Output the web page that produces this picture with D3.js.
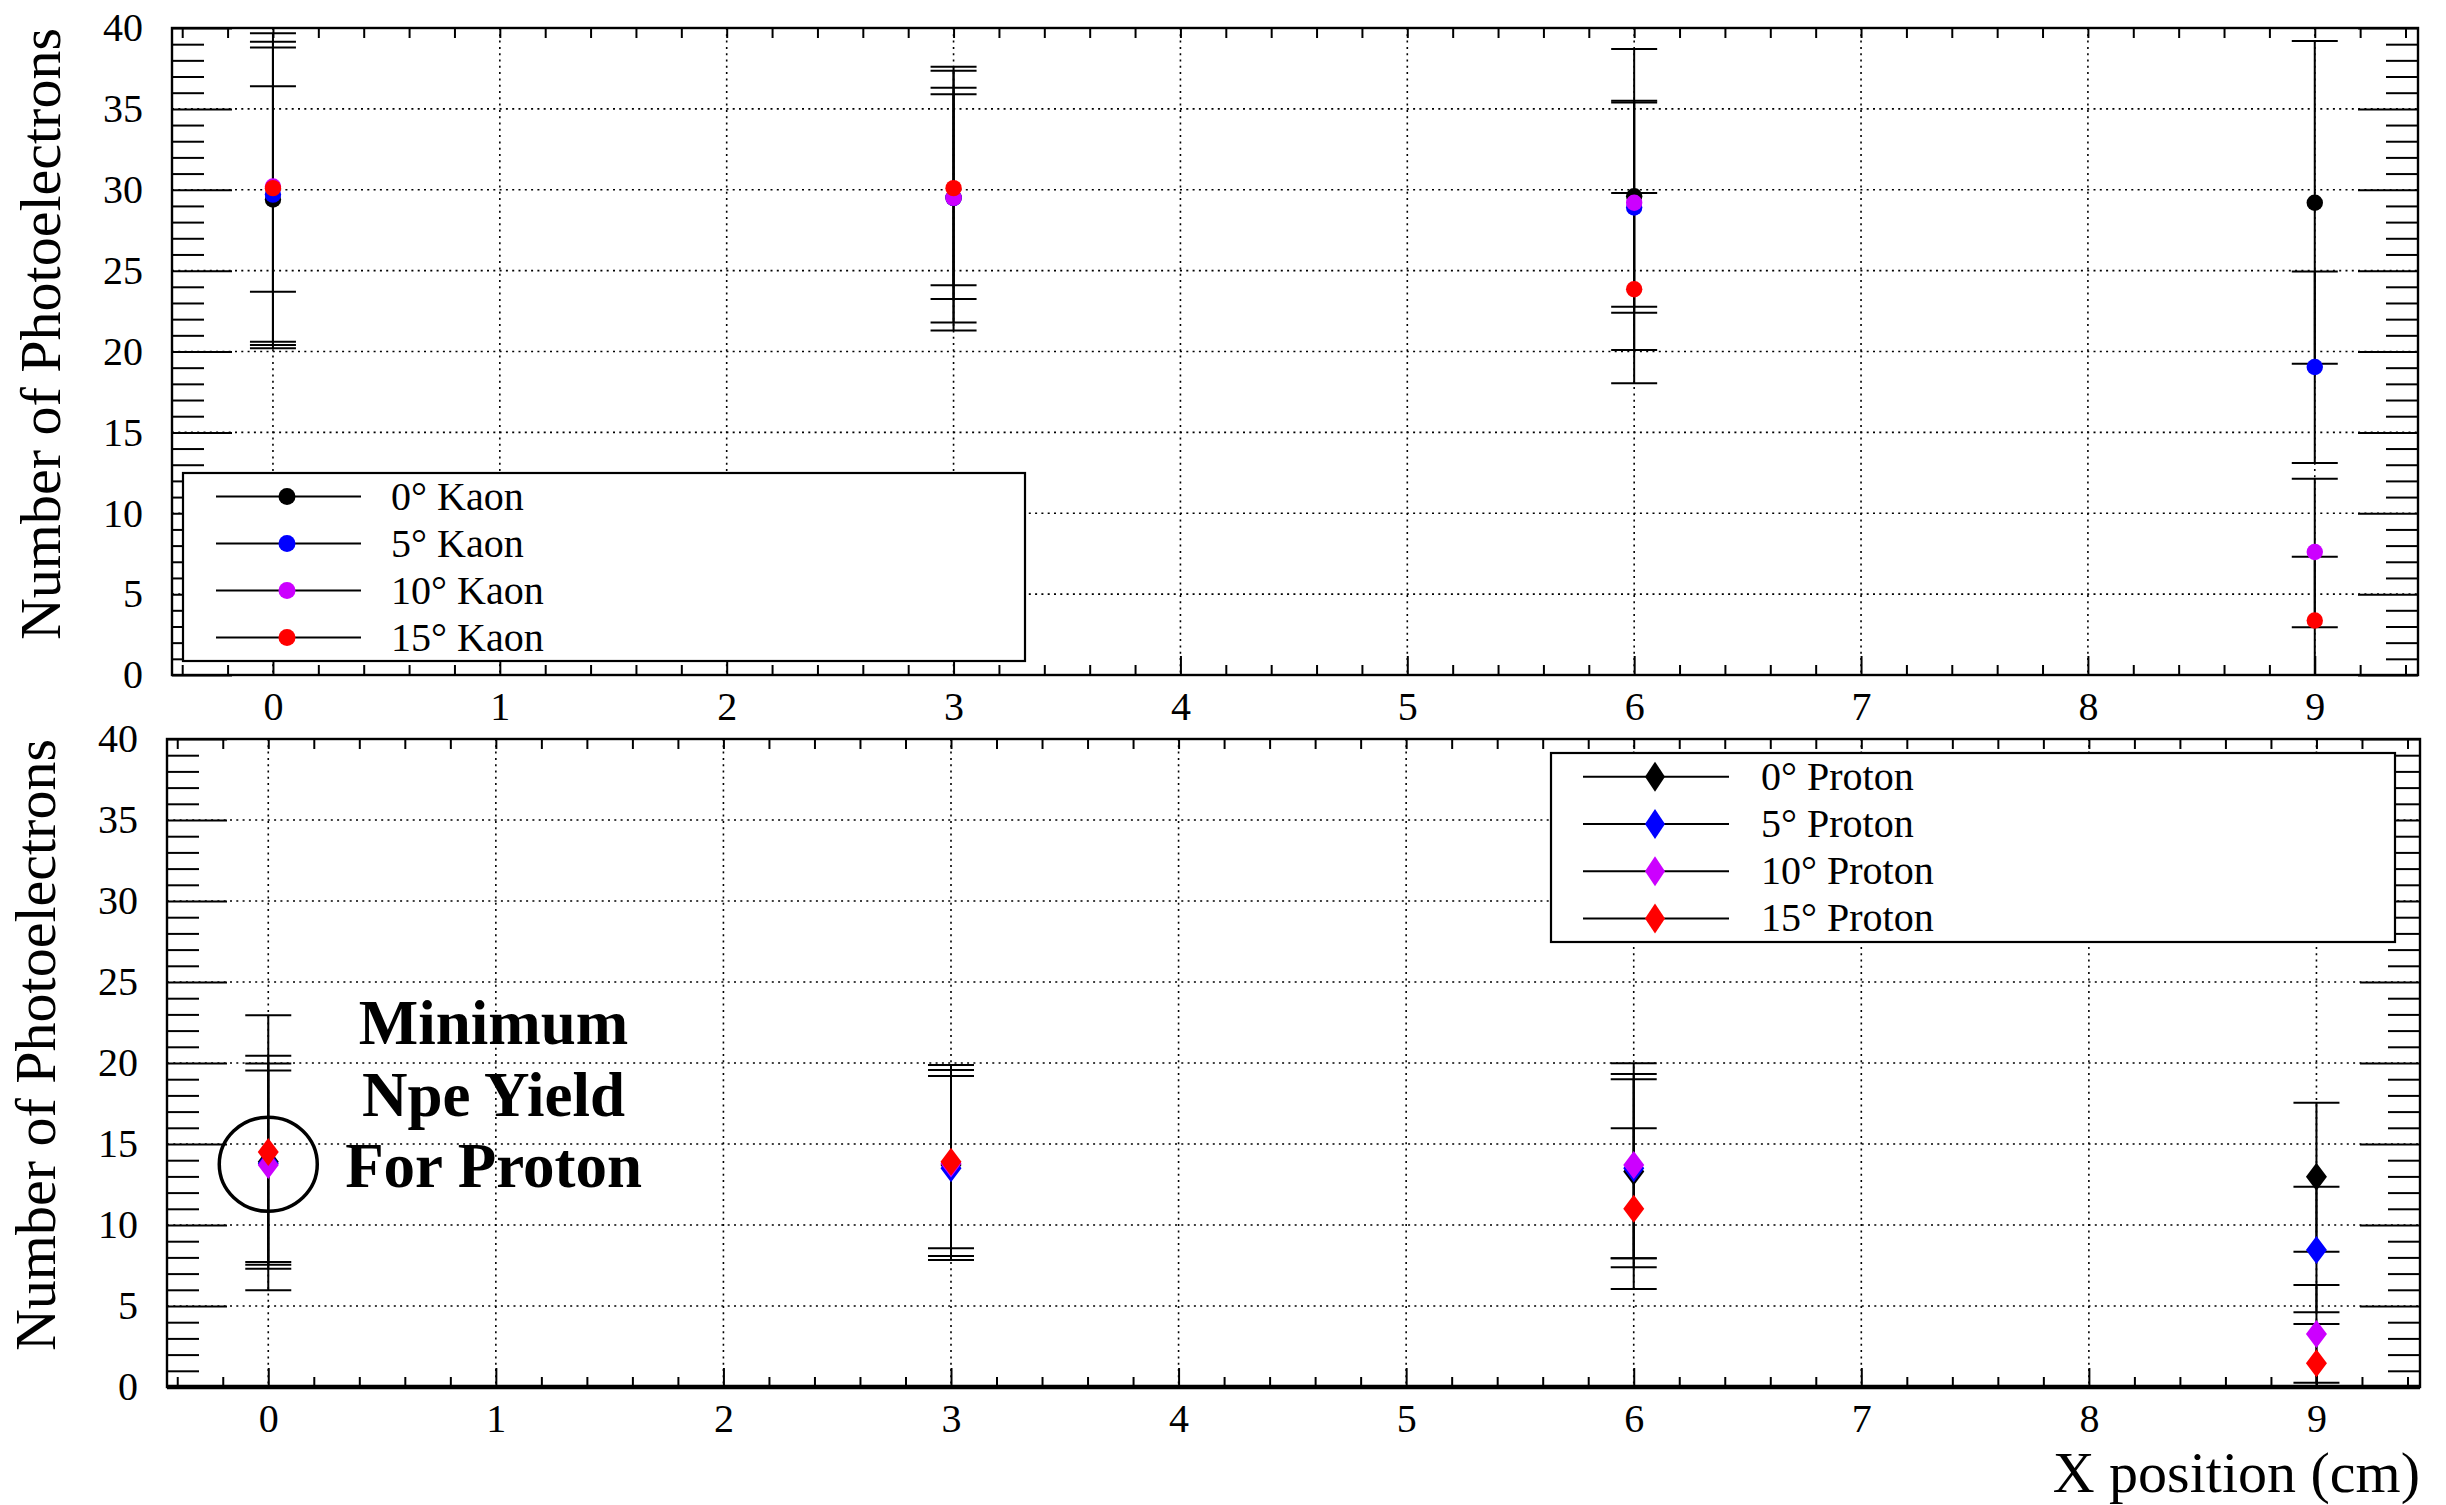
<!DOCTYPE html>
<html>
<head>
<meta charset="utf-8">
<script src="https://cdn.jsdelivr.net/npm/d3@7/dist/d3.min.js"></script>
<style>
  html, body { margin: 0; padding: 0; background: #ffffff; }
  svg { display: block; }
  text { font-family: "Liberation Serif", "Times New Roman", serif; }
</style>
</head>
<body>
<svg id="chart" width="2446" height="1505"></svg>
<script>
// ---------------- DATA ----------------
const xPositions = [0, 3, 6, 9];
const xTickLabels = [0, 1, 2, 3, 4, 5, 6, 7, 8, 9];
const yTickLabels = [0, 5, 10, 15, 20, 25, 30, 35, 40];
const seriesColors = ["#000000", "#0000ff", "#cc00ff", "#ff0000"];

const kaonLabels = ["0° Kaon", "5° Kaon", "10° Kaon", "15° Kaon"];
const kaon0Val = [29.4, 29.5, 29.6, 29.2];
const kaon0Up = [10.27, 8.1, 9.1, 10.0];
const kaon0Dn = [9.2, 8.2, 9.5, 9.96];
const kaon5Val = [29.7, 29.5, 28.9, 19.04];
const kaon5Up = [9.45, 7.85, 6.5, 5.91];
const kaon5Dn = [9.3, 7.7, 6.5, 5.94];
const kaon10Val = [30.2, 29.5, 29.2, 7.6];
const kaon10Up = [8.6, 6.8, 6.3, 4.54];
const kaon10Dn = [9.6, 6.25, 6.43, 4.65];
const kaon15Val = [30.1, 30.1, 23.85, 3.37];
const kaon15Up = [6.3, 5.8, 5.95, 3.94];
const kaon15Dn = [6.4, 6.0, 5.82, 3.94];

const protonLabels = ["0° Proton", "5° Proton", "10° Proton", "15° Proton"];
const proton0Val = [13.9, 13.7, 13.3, 12.98];
const proton0Up = [6.55, 6.18, 5.69, 4.57];
const proton0Dn = [6.6, 5.86, 5.36, 4.63];
const proton5Val = [13.8, 13.5, 13.5, 8.46];
const proton5Up = [6.17, 5.7, 5.82, 3.9];
const proton5Dn = [6.25, 5.66, 5.56, 3.85];
const proton10Val = [13.7, 13.8, 13.7, 3.27];
const proton10Up = [5.83, 5.77, 6.28, 3.03];
const proton10Dn = [5.99, 5.71, 6.31, 3.0];
const proton15Val = [14.5, 13.9, 11.0, 1.46];
const proton15Up = [8.45, 5.98, 4.97, 2.43];
const proton15Dn = [8.53, 5.34, 4.95, 2.43];

const annotationLines = ["Minimum", "Npe Yield", "For Proton"];
const yTitle = "Number of Photoelectrons";
const xTitle = "X position (cm)";

// ---------------- BUILD SERIES ----------------
function buildSeries(labels, vals, ups, dns) {
  return labels.map((lab, i) => ({
    label: lab,
    color: seriesColors[i],
    points: xPositions.map((xp, j) => ({ x: xp, y: vals[i][j], up: ups[i][j], dn: dns[i][j] }))
  }));
}
const kaonSeries = buildSeries(kaonLabels,
  [kaon0Val, kaon5Val, kaon10Val, kaon15Val],
  [kaon0Up, kaon5Up, kaon10Up, kaon15Up],
  [kaon0Dn, kaon5Dn, kaon10Dn, kaon15Dn]);
const protonSeries = buildSeries(protonLabels,
  [proton0Val, proton5Val, proton10Val, proton15Val],
  [proton0Up, proton5Up, proton10Up, proton15Up],
  [proton0Dn, proton5Dn, proton10Dn, proton15Dn]);

// ---------------- LAYOUT ----------------
const svg = d3.select("#chart");
svg.append("rect").attr("width", 2446).attr("height", 1505).attr("fill", "#fff");

const xDomain = [-0.445, 9.455];
const yDomain = [0, 40];
const FONT = "'Liberation Serif', 'Times New Roman', serif";

const panels = [
  { left: 172, right: 2418, top: 28, bottom: 675, series: kaonSeries, marker: "circle",
    legend: { x0: 183, y0: 473, x1: 1025, y1: 661, lineX0: 216, lineX1: 361, markX: 287, textX: 391 } },
  { left: 167, right: 2420, top: 739, bottom: 1387, series: protonSeries, marker: "diamond",
    legend: { x0: 1551, y0: 753, x1: 2395, y1: 942, lineX0: 1583, lineX1: 1729, markX: 1655, textX: 1761 } }
];

function diamondPath(cx, cy, hw, hh) {
  return `M${cx},${cy - hh}L${cx + hw},${cy}L${cx},${cy + hh}L${cx - hw},${cy}Z`;
}

const majorY = yTickLabels;
const minorY = d3.range(1, 40).filter(v => v % 5 !== 0);
const majorX = xTickLabels;
const minorX = d3.range(-2, 48).filter(i => i % 5 !== 0).map(i => i / 5);
const allTopX = d3.range(-2, 48).map(i => i / 5);

panels.forEach((p, pi) => {
  const x = d3.scaleLinear().domain(xDomain).range([p.left, p.right]);
  const y = d3.scaleLinear().domain(yDomain).range([p.bottom, p.top]);
  p.x = x; p.y = y;
  const g = svg.append("g");

  // grid
  const grid = g.append("g").attr("stroke", "#000").attr("stroke-width", 1.6).attr("stroke-dasharray", "2,4.3");
  grid.selectAll("line.gx").data(majorX).join("line")
    .attr("x1", d => x(d)).attr("x2", d => x(d)).attr("y1", p.top).attr("y2", p.bottom);
  grid.selectAll("line.gy").data(majorY.filter(v => v > 0 && v < 40)).join("line")
    .attr("x1", p.left).attr("x2", p.right).attr("y1", d => y(d)).attr("y2", d => y(d));

  // axes ticks
  const styleAxis = sel => {
    sel.select(".domain").remove();
    sel.selectAll(".tick line").attr("stroke", "#000").attr("stroke-width", 2);
    sel.selectAll(".tick text").attr("fill", "#000").style("font-family", FONT).style("font-size", "40px");
  };
  g.append("g").attr("transform", `translate(${p.left},0)`)
    .call(d3.axisLeft(y).tickValues(majorY).tickSize(-60).tickPadding(29).tickFormat(d3.format("d"))).call(styleAxis);
  g.append("g").attr("transform", `translate(${p.left},0)`)
    .call(d3.axisLeft(y).tickValues(minorY).tickSize(-32).tickFormat("")).call(styleAxis);
  g.append("g").attr("transform", `translate(${p.right},0)`)
    .call(d3.axisRight(y).tickValues(majorY).tickSize(-60).tickFormat("")).call(styleAxis);
  g.append("g").attr("transform", `translate(${p.right},0)`)
    .call(d3.axisRight(y).tickValues(minorY).tickSize(-32).tickFormat("")).call(styleAxis);
  g.append("g").attr("transform", `translate(0,${p.bottom})`)
    .call(d3.axisBottom(x).tickValues(majorX).tickSize(-19).tickPadding(17).tickFormat(d3.format("d"))).call(styleAxis);
  g.append("g").attr("transform", `translate(0,${p.bottom})`)
    .call(d3.axisBottom(x).tickValues(minorX).tickSize(-10).tickFormat("")).call(styleAxis);
  g.append("g").attr("transform", `translate(0,${p.top})`)
    .call(d3.axisTop(x).tickValues(allTopX).tickSize(-10).tickFormat("")).call(styleAxis);

  // frame
  g.append("rect").attr("x", p.left).attr("y", p.top).attr("width", p.right - p.left).attr("height", p.bottom - p.top)
    .attr("fill", "none").attr("stroke", "#000").attr("stroke-width", 2.4);
  if (pi === 1) {
    g.append("line").attr("x1", p.left).attr("x2", p.right).attr("y1", p.bottom).attr("y2", p.bottom)
      .attr("stroke", "#000").attr("stroke-width", 4.5);
  }

  // y title
  g.append("text")
    .attr("transform", `translate(${p.left - 112},${p.top}) rotate(-90)`)
    .attr("text-anchor", "end")
    .style("font-family", FONT).style("font-size", "58px").attr("fill", "#000")
    .text(yTitle);

  // data (clipped)
  const clipId = "clip" + pi;
  svg.append("clipPath").attr("id", clipId).append("rect")
    .attr("x", p.left).attr("y", p.top).attr("width", p.right - p.left).attr("height", p.bottom - p.top);
  const data = g.append("g").attr("clip-path", `url(#${clipId})`);
  p.series.forEach(s => {
    const sg = data.append("g");
    sg.selectAll("line.ev").data(s.points).join("line")
      .attr("x1", d => x(d.x)).attr("x2", d => x(d.x))
      .attr("y1", d => y(d.y - d.dn)).attr("y2", d => y(d.y + d.up))
      .attr("stroke", "#000").attr("stroke-width", 2);
    sg.selectAll("line.cu").data(s.points).join("line")
      .attr("x1", d => x(d.x) - 23).attr("x2", d => x(d.x) + 23)
      .attr("y1", d => y(d.y + d.up)).attr("y2", d => y(d.y + d.up))
      .attr("stroke", "#000").attr("stroke-width", 2);
    sg.selectAll("line.cd").data(s.points).join("line")
      .attr("x1", d => x(d.x) - 23).attr("x2", d => x(d.x) + 23)
      .attr("y1", d => y(d.y - d.dn)).attr("y2", d => y(d.y - d.dn))
      .attr("stroke", "#000").attr("stroke-width", 2);
  });
  p.series.forEach(s => {
    if (p.marker === "circle") {
      data.selectAll(null).data(s.points).join("circle")
        .attr("cx", d => x(d.x)).attr("cy", d => y(d.y)).attr("r", 8.2).attr("fill", s.color);
    } else {
      data.selectAll(null).data(s.points).join("path")
        .attr("d", d => diamondPath(x(d.x), y(d.y), 10.5, 14)).attr("fill", s.color);
    }
  });

  // legend
  const L = p.legend;
  const lg = g.append("g");
  lg.append("rect").attr("x", L.x0).attr("y", L.y0).attr("width", L.x1 - L.x0).attr("height", L.y1 - L.y0)
    .attr("fill", "#fff").attr("stroke", "#000").attr("stroke-width", 2.2);
  const rowH = (L.y1 - L.y0) / 4;
  p.series.forEach((s, i) => {
    const ry = L.y0 + rowH * (i + 0.5);
    lg.append("line").attr("x1", L.lineX0).attr("x2", L.lineX1).attr("y1", ry).attr("y2", ry)
      .attr("stroke", "#000").attr("stroke-width", 2);
    if (p.marker === "circle") {
      lg.append("circle").attr("cx", L.markX).attr("cy", ry).attr("r", 8.5).attr("fill", s.color);
    } else {
      lg.append("path").attr("d", diamondPath(L.markX, ry, 10, 15)).attr("fill", s.color);
    }
    lg.append("text").attr("x", L.textX).attr("y", ry + 13)
      .style("font-family", FONT).style("font-size", "40px").attr("fill", "#000").text(s.label);
  });
});

// x title
const pb = panels[1];
svg.append("text").attr("x", pb.right).attr("y", 1492).attr("text-anchor", "end")
  .style("font-family", FONT).style("font-size", "58px").attr("fill", "#000").text(xTitle);

// annotation (bottom panel)
const ann = svg.append("g");
const annY = [21.2, 16.75, 12.35];
annotationLines.forEach((t, i) => {
  ann.append("text").attr("x", pb.x(0.99)).attr("y", pb.y(annY[i])).attr("text-anchor", "middle")
    .style("font-family", FONT).style("font-size", "63px").style("font-weight", "bold").attr("fill", "#000").text(t);
});
ann.append("ellipse").attr("cx", pb.x(0)).attr("cy", pb.y(13.75)).attr("rx", 49).attr("ry", 47)
  .attr("fill", "none").attr("stroke", "#000").attr("stroke-width", 3.5);
</script>
</body>
</html>
